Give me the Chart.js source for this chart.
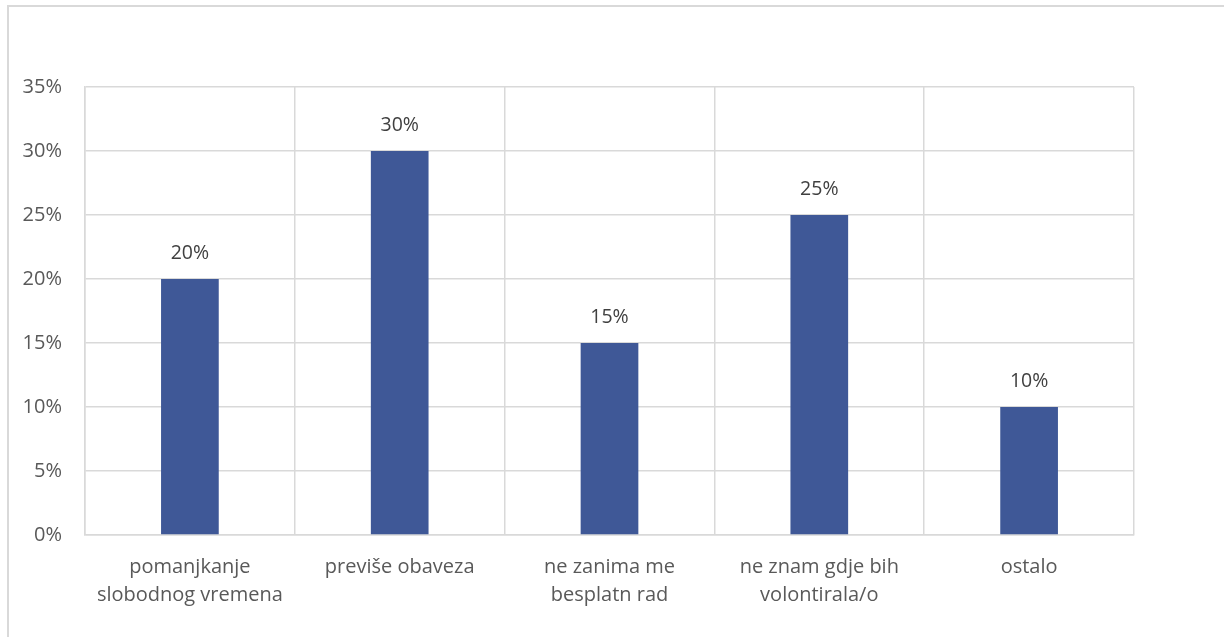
<!DOCTYPE html>
<html>
<head>
<meta charset="utf-8">
<script src="https://cdn.jsdelivr.net/npm/chart.js@4"></script>
<style>
    html, body { margin: 0; padding: 0; background: #fff; overflow: hidden; }
    #frame {
        position: absolute; left: 7px; top: 5px;
        width: 1240px; height: 660px;
        border: 2px solid #D9D9D9;
    }
    #wrap { position: absolute; left: 0; top: 0; width: 1224px; height: 637px; }
</style>
</head>
<body>
<div id="frame"></div>
<div id="wrap"><canvas id="myChart" width="1224" height="637"></canvas></div>
<script>
const categories = [
    ['pomanjkanje', 'slobodnog vremena'],
    'previše obaveza',
    ['ne zanima me', 'besplatn rad'],
    ['ne znam gdje bih', 'volontirala/o'],
    'ostalo'
];
const percentValues = [20, 30, 15, 25, 10];
const yTicks = [0, 5, 10, 15, 20, 25, 30, 35];

const textColor = '#595959';
const gridColor = '#D9D9D9';
const fontFamily = "'Open Sans', 'Liberation Sans', sans-serif";

// draws the value above each bar
const valueLabels = {
    id: 'valueLabels',
    afterDatasetsDraw(chart) {
        const ctx = chart.ctx;
        const meta = chart.getDatasetMeta(0);
        ctx.save();
        ctx.fillStyle = '#404040';
        ctx.font = '19.5px ' + fontFamily;
        ctx.textAlign = 'center';
        ctx.textBaseline = 'middle';
        meta.data.forEach((bar, i) => {
            ctx.fillText(percentValues[i] + '%', bar.x, bar.y - 26);
        });
        ctx.restore();
    }
};

const ctx = document.getElementById('myChart').getContext('2d');
new Chart(ctx, {
    type: 'bar',
    data: {
        labels: categories,
        datasets: [{
            data: percentValues,
            backgroundColor: '#3F5897',
            categoryPercentage: 1,
            barPercentage: 0.275
        }]
    },
    options: {
        responsive: false,
        animation: false,
        layout: { padding: { left: 0, right: 90, top: 87, bottom: 0 } },
        plugins: {
            legend: { display: false },
            tooltip: { enabled: false }
        },
        scales: {
            x: {
                offset: true,
                grid: { color: gridColor, offset: true, drawTicks: false, lineWidth: 1.5 },
                border: { color: gridColor, width: 1.5 },
                ticks: {
                    color: textColor,
                    font: { family: fontFamily, size: 20, lineHeight: 1.4 },
                    padding: 18,
                    maxRotation: 0
                },
                afterFit(scale) { scale.height = 102; }
            },
            y: {
                min: 0,
                max: 35,
                afterBuildTicks(scale) {
                    scale.ticks = yTicks.map(v => ({ value: v }));
                },
                grid: { color: gridColor, drawTicks: false, lineWidth: 1.5 },
                border: { color: gridColor, width: 1.5 },
                ticks: {
                    color: textColor,
                    font: { family: fontFamily, size: 20 },
                    padding: 23,
                    callback: v => v + '%'
                },
                afterFit(scale) { scale.width = 85; }
            }
        }
    },
    plugins: [valueLabels]
});
</script>
</body>
</html>
